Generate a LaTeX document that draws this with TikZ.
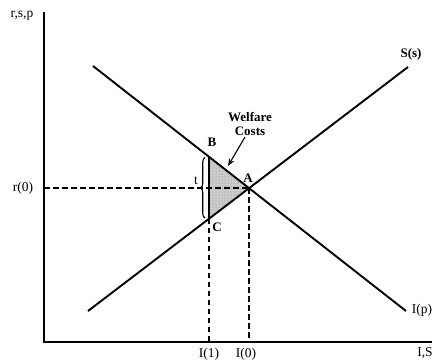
\documentclass[tikz,border=0pt]{standalone}
\usepackage{fontspec}
\setmainfont{Liberation Serif}
\usetikzlibrary{arrows.meta,calc,positioning,decorations.pathreplacing,patterns}
\tikzset{axis/.style={line width=1.8pt},
  curve/.style={line width=1.9pt},
  guide/.style={line width=1.6pt,dash pattern=on 5.5pt off 3.5pt},
  lbl/.style={font=\fontsize{13.5}{14}\selectfont,inner sep=1pt},
  pt/.style={font=\fontsize{13}{14}\selectfont\bfseries,inner sep=1pt},
  arr/.style={-{Stealth[length=2.6mm,width=2mm]},line width=1.1pt}}

\begin{document}
\begin{tikzpicture}[x=1pt,y=1pt]
\useasboundingbox (0,0) rectangle (436,360);
% axes
\coordinate (O) at (44,18);
\coordinate (ytop) at (44,348);
\coordinate (xend) at (432,18);
% demand I(p) and supply S(s)
\coordinate (d0) at (93,294); \coordinate (d1) at (406,49);
\coordinate (s0) at (88,49); \coordinate (s1) at (408,293);
\coordinate (A) at (249.1,171.8);
\coordinate (B) at (209,203.2);
\coordinate (C) at (209,141.3);
\coordinate (r0) at (O|-A); \coordinate (i0) at (O-|A); \coordinate (i1) at (O-|C);
% welfare triangle
\fill[gray!40] (B)--(A)--(C)--cycle;
\fill[pattern=dots,pattern color=gray] (B)--(A)--(C)--cycle;
\draw[line width=1.2pt] (B)--(C);
\draw[axis] (ytop)--(O)--(xend);
\draw[curve] (d0)--(d1);
\draw[curve] (s0)--(s1);
\draw[guide] (r0)--(A); \draw[guide] (A)--(i0); \draw[guide] (C)--(i1);
\draw[line width=1.1pt,decorate,decoration={brace,amplitude=4.5pt}] (205,142)--(205,202.5);
% labels
\node[lbl] (ylab) at (22,344){r,s,p};
\node[lbl] (r0lab) at (23,172){r(0)};
\node[lbl] (i1lab) at (209,6){I(1)};
\node[lbl] (i0lab) at (246,6){I(0)};
\node[lbl] (xlab) at (425,7){I,S};
\node[lbl] (dlab) at (422,50){I(p)};
\node[pt] (slab) at (411,306){S(s)};
\node[pt] (blab) at (212,218){B};
\node[pt] (alab) at (248,182){A};
\node[pt] (clab) at (217,133){C};
\node[lbl] (tlab) at (196,179){t};
\node[pt,align=center] (wc) at (250,236){Welfare\\Costs};
\coordinate (wtail) at (245,223);
\coordinate (wtip) at (228,194);
\draw[arr] (wtail) -- (wtip);
\end{tikzpicture}
\end{document}
